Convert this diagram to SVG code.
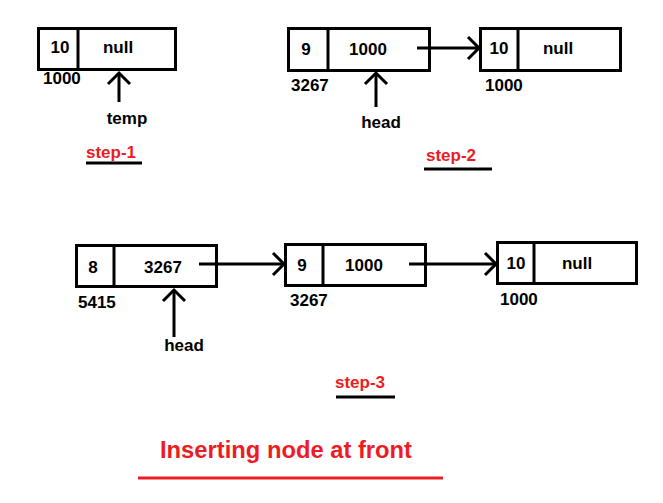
<svg xmlns="http://www.w3.org/2000/svg" width="663" height="503" viewBox="0 0 663 503">
<style>
.box{fill:#fff;stroke:#000;stroke-width:3}
.div{stroke:#000;stroke-width:3}
.t{font-family:"Liberation Sans",Arial,sans-serif;font-weight:bold;font-size:17px;fill:#000}
.c{text-anchor:middle}
.red{font-family:"Liberation Sans",Arial,sans-serif;font-weight:bold;font-size:17px;fill:#ed1c24}
.ul{stroke:#000;stroke-width:3}
.con{stroke:#000;stroke-width:3;fill:none;marker-end:url(#chev)}
</style>
<defs>
<marker id="chev" markerUnits="userSpaceOnUse" refX="0" refY="0" orient="auto" overflow="visible" markerWidth="30" markerHeight="30">
<path d="M-11,-11 L0,0 L-11,11" fill="none" stroke="#000" stroke-width="3"/>
</marker>
</defs>

<g id="s1-node">
<rect class="box" x="38.5" y="28.5" width="137" height="41"/>
<line class="div" x1="78" y1="28.5" x2="78" y2="69.5"/>
<text class="t c" x="60" y="53">10</text>
<text class="t c" x="118" y="53">null</text>
<text class="t" x="43" y="84">1000</text>
</g>
<g id="s1-temp"><text class="t c" x="127" y="124">temp</text></g>
<g id="s1-label"><text class="red" x="86" y="158">step-1</text><line class="ul" x1="86" y1="163" x2="142" y2="163"/></g>

<g id="s2-node1">
<rect class="box" x="288.5" y="28.5" width="141" height="42"/>
<line class="div" x1="328" y1="28.5" x2="328" y2="70.5"/>
<text class="t c" x="306" y="55">9</text>
<text class="t c" x="368" y="55">1000</text>
<text class="t" x="291" y="91">3267</text>
</g>
<g id="s2-node2">
<rect class="box" x="480.5" y="28.5" width="140" height="42"/>
<line class="div" x1="518" y1="28.5" x2="518" y2="70.5"/>
<text class="t c" x="499" y="54">10</text>
<text class="t c" x="558" y="54">null</text>
<text class="t" x="485" y="91">1000</text>
</g>
<g id="s2-head"><text class="t c" x="381" y="128">head</text></g>
<g id="s2-label"><text class="red" x="426" y="161">step-2</text><line class="ul" x1="424" y1="169" x2="492" y2="169"/></g>

<g id="s3-node1">
<rect class="box" x="76.5" y="245.5" width="140" height="41"/>
<line class="div" x1="114" y1="245.5" x2="114" y2="286.5"/>
<text class="t c" x="93" y="273">8</text>
<text class="t c" x="163" y="273">3267</text>
<text class="t" x="78" y="308">5415</text>
</g>
<g id="s3-node2">
<rect class="box" x="285.5" y="244.5" width="140" height="41"/>
<line class="div" x1="323" y1="244.5" x2="323" y2="285.5"/>
<text class="t c" x="302" y="271">9</text>
<text class="t c" x="364" y="271">1000</text>
<text class="t" x="290" y="306">3267</text>
</g>
<g id="s3-node3">
<rect class="box" x="497.5" y="242.5" width="139" height="41"/>
<line class="div" x1="534" y1="242.5" x2="534" y2="283.5"/>
<text class="t c" x="516" y="269">10</text>
<text class="t c" x="577" y="269">null</text>
<text class="t" x="500" y="305">1000</text>
</g>
<g id="s3-head"><text class="t c" x="184" y="351">head</text></g>
<g id="s3-label"><text class="red" x="335" y="388">step-3</text><line class="ul" x1="336" y1="397" x2="395" y2="397"/></g>

<g id="title">
<text x="160" y="458" font-family="'Liberation Sans',Arial,sans-serif" font-weight="bold" font-size="23" fill="#ed1c24" textLength="252" lengthAdjust="spacingAndGlyphs">Inserting node at front</text>
<line x1="138" y1="478" x2="443" y2="478" stroke="#ed1c24" stroke-width="3"/>
</g>

<g id="connectors">
<line class="con" x1="119" y1="102" x2="119" y2="73"/>
<line class="con" x1="417" y1="48" x2="479" y2="48"/>
<line class="con" x1="376" y1="107" x2="376" y2="73"/>
<line class="con" x1="199" y1="264" x2="284" y2="264"/>
<line class="con" x1="174" y1="337" x2="174" y2="290"/>
<line class="con" x1="409" y1="264" x2="496" y2="264"/>
</g>
</svg>
